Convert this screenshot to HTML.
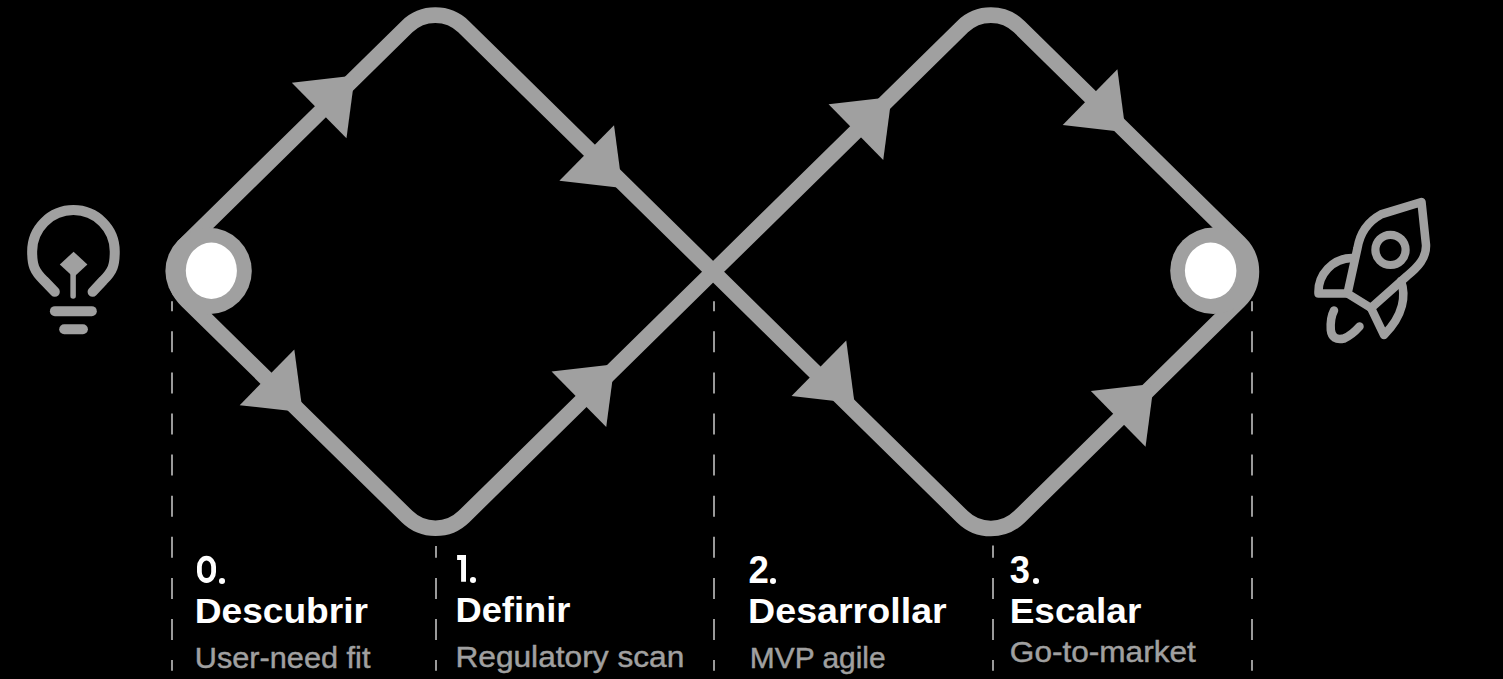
<!DOCTYPE html>
<html><head><meta charset='utf-8'><style>
html,body{margin:0;padding:0;background:#000;width:1503px;height:679px;overflow:hidden}
svg{display:block;position:absolute;left:0;top:0}
.t{font-family:"Liberation Sans",sans-serif;font-weight:700;font-size:35px;fill:#fff}
.n{font-family:"Liberation Sans",sans-serif;font-weight:700;font-size:39px;fill:#fff}
.s{font-family:"Liberation Sans",sans-serif;font-weight:400;font-size:30.2px;fill:#a0a0a0;stroke:#a0a0a0;stroke-width:0.45px}
</style></head><body>
<svg class='dg' width='1503' height='679' viewBox='0 0 1503 679'>
<g stroke='#9a9a9a' stroke-width='2' fill='none'><line x1='172' y1='301.2' x2='172' y2='670.7' stroke-dasharray='21.0 20.10' stroke-dashoffset='11.00'/><line x1='436' y1='545.9' x2='436' y2='670.7' stroke-dasharray='21.0 20.10' stroke-dashoffset='9.10'/><line x1='714' y1='301.2' x2='714' y2='670.7' stroke-dasharray='21.0 20.10' stroke-dashoffset='11.00'/><line x1='993' y1='545.5' x2='993' y2='670.7' stroke-dasharray='21.0 20.10' stroke-dashoffset='8.70'/><line x1='1252' y1='301.2' x2='1252' y2='670.7' stroke-dasharray='21.0 20.10' stroke-dashoffset='11.00'/></g>
<path d='M186.92 242.89L406.91 26.70A40.5 40.5 0 0 1 463.69 26.70L713.10 271.80L962.51 516.90A40.5 40.5 0 0 0 1019.29 516.90L1239.31 300.69A40.5 40.5 0 0 0 1239.31 242.91L1019.29 26.70A40.5 40.5 0 0 0 962.51 26.70L713.10 271.80L463.86 516.64A40.5 40.5 0 0 1 407.12 516.66L186.95 300.69A40.5 40.5 0 0 1 186.92 242.89Z' fill='none' stroke='#a0a0a0' stroke-width='15.6'/>
<g fill='#a0a0a0'><polygon points='354.81,75.50 346.49,138.37 291.81,82.73'/><polygon points='622.36,188.05 559.36,180.82 614.04,125.18'/><polygon points='302.69,412.31 239.69,405.14 294.31,349.46'/><polygon points='614.57,364.16 606.23,427.02 551.57,371.38'/><polygon points='891.56,97.05 883.24,159.92 828.56,104.28'/><polygon points='1125.71,132.15 1062.71,124.92 1117.39,69.28'/><polygon points='854.56,403.35 791.56,396.12 846.24,340.48'/><polygon points='1153.86,383.85 1145.54,446.72 1090.86,391.08'/></g>
<circle cx='208.6' cy='271' r='43.2' fill='#a0a0a0'/>
<ellipse cx='211.35' cy='270.75' rx='25.55' ry='28.15' fill='#fff'/>
<circle cx='1213.4' cy='270.8' r='43.2' fill='#a0a0a0'/>
<ellipse cx='1210.65' cy='270.75' rx='25.75' ry='28.15' fill='#fff'/>
<g fill='none' stroke='#a0a0a0' stroke-linecap='round' stroke-linejoin='round'>
<path d='M54.8 291.8 L44 280.5 C34 271 32.15 265 32.15 251.4 A41.3 41.3 0 0 1 114.75 251.4 C114.75 265 113 271 103.2 280.5 L92.6 291.8' stroke-width='10'/>
<path d='M73.1 270 L73.1 296' stroke-width='5.5'/>
<path d='M54.9 311.15 L91.8 311.15' stroke-width='10'/>
<path d='M64.2 329.25 L82.9 329.25' stroke-width='10'/>
</g>
<polygon points='73.6,251.7 87.4,264.5 73.6,277.3 59.8,264.5' fill='#a0a0a0'/><g fill='none' stroke='#a0a0a0' stroke-width='8.5' stroke-linecap='round' stroke-linejoin='round'>
<path d='M1421.5 202 L1426 245 C1426.5 258 1418 267 1407 276 L1371 308 L1347.5 293.5 L1357.5 248 C1360 233 1367 222 1381 214.4 Z'/>
<path d='M1352 258 A34 34 0 0 0 1318.5 293.5 L1347.5 293.5'/>
<path d='M1401 281 C1406 295 1404 315 1384 335 L1371 308'/>
<path d='M1334 310.5 Q1330 318 1330.8 330 Q1332 341 1344 338.5 Q1352 335 1359.5 326.5'/>
<circle cx='1390.5' cy='249.9' r='15.1' stroke-width='8.2'/>
</g><rect x='199.4' y='558.2' width='14.2' height='22.3' rx='7.1' ry='8.5' fill='none' stroke='#fff' stroke-width='4.8'/><circle cx='222' cy='581' r='3.05' fill='#fff'/><text transform='translate(194.68 622.5) scale(1.0609 1)' class='t'>Descubrir</text><text transform='translate(194.77 667.7) scale(1.0164 1)' class='s'>User-need fit</text><path d='M457.1 555H466V581.8H461.1V560H457.1Z' fill='#fff'/><circle cx='473' cy='580' r='3.05' fill='#fff'/><text transform='translate(455.42 622.3) scale(1.0385 1)' class='t'>Definir</text><text transform='translate(455.40 667.1) scale(1.0495 1)' class='s'>Regulatory scan</text><text transform='translate(748.48 583) scale(0.9385 1)' class='n'>2</text><circle cx='773' cy='581' r='3.05' fill='#fff'/><text transform='translate(748.05 622.8) scale(1.0749 1)' class='t'>Desarrollar</text><text transform='translate(749.82 668) scale(0.9910 1)' class='s'>MVP agile</text><text transform='translate(1009.69 583) scale(0.9317 1)' class='n'>3</text><circle cx='1036' cy='581' r='3.05' fill='#fff'/><text transform='translate(1009.69 622.8) scale(1.0566 1)' class='t'>Escalar</text><text transform='translate(1009.85 661.8) scale(1.0458 1)' class='s'>Go-to-market</text></svg>
</body></html>
